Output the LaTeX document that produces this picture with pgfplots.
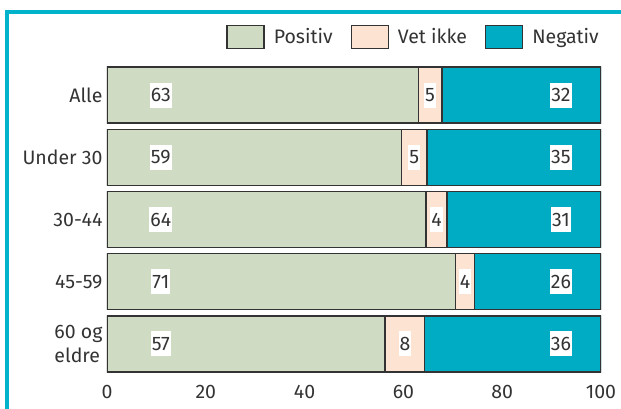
\documentclass[border=0pt]{standalone}
\usepackage{pgfplots}
\pgfplotsset{compat=1.18}
\usepackage{fontspec}
\setmainfont{Fira Sans}
\definecolor{pos}{HTML}{CFDBC2}
\definecolor{vet}{HTML}{FDE3D1}
\definecolor{neg}{HTML}{00ABC4}
\definecolor{frm}{HTML}{00B3CB}
\definecolor{txt}{HTML}{333333}
\newcommand{\fs}{\fontsize{19.5}{24}\selectfont}
\pgfplotsset{base/.style={at={(107pt,34pt)}, anchor=south west, scale only axis,
  width=494pt, height=311pt, xmin=0, xmax=100, ymin=-0.5, ymax=4.5, y dir=reverse}}
\begin{document}
\begin{tikzpicture}
\path[use as bounding box] (0,0) rectangle (621pt,409pt);
\draw[frm, line width=4pt, line join=miter] (7pt,0) -- (7pt,396.5pt) -- (621pt,396.5pt);
\begin{axis}[base, xbar stacked, bar width=0.9,
  axis line style={draw=none}, major tick style={draw=none},
  xtick={0,20,...,100}, ytick={0,...,4},
  yticklabels={Alle, Under 30, 30-44, 45-59, {60 og\\eldre}},
  yticklabel style={align=left, font=\fs, text=txt, xshift=-1pt},
  xticklabel style={font=\fs, text=txt, yshift=-7pt},
  /pgf/number format/assume math mode=true,
  legend columns=3,
  legend style={draw=none, fill=none, inner sep=0pt, at={(0.996,1.087)}, anchor=east,
    font=\fs, text=txt, nodes={inner sep=0pt},
    /tikz/every odd column/.append style={column sep=9pt},
    /tikz/every even column/.append style={column sep=18pt}},
  legend image code/.code={\draw[#1] (0pt,-11.5pt) rectangle (37pt,11.5pt);},
  every axis plot/.append style={draw=txt, line width=1.3pt}]
\addplot[fill=pos] coordinates {(63.0,0) (59.6,1) (64.6,2) (70.6,3) (56.3,4)};
\addlegendentry{Positiv}
\addplot[fill=vet] coordinates {(4.8,0) (5.2,1) (4.2,2) (3.8,3) (8.0,4)};
\addlegendentry{Vet ikke}
\addplot[fill=neg] coordinates {(32.2,0) (35.2,1) (31.2,2) (25.6,3) (35.7,4)};
\addlegendentry{Negativ}
\end{axis}
\begin{axis}[base, hide axis,
  every node near coord/.append style={anchor=center, fill=white, text=txt, font=\fs,
    inner xsep=1pt, inner ysep=0pt, minimum height=25pt}]
\addplot[draw=none, mark=none, nodes near coords, point meta=explicit symbolic]
 table[meta=lab] {
x y lab
10.9 0 63
10.9 1 59
10.9 2 64
10.9 3 71
10.9 4 57
65.4 0 5
62.2 1 5
66.7 2 4
72.5 3 4
60.3 4 8
91.9 0 32
91.9 1 35
91.9 2 31
91.9 3 26
91.9 4 36
};
\end{axis}
\end{tikzpicture}
\end{document}
